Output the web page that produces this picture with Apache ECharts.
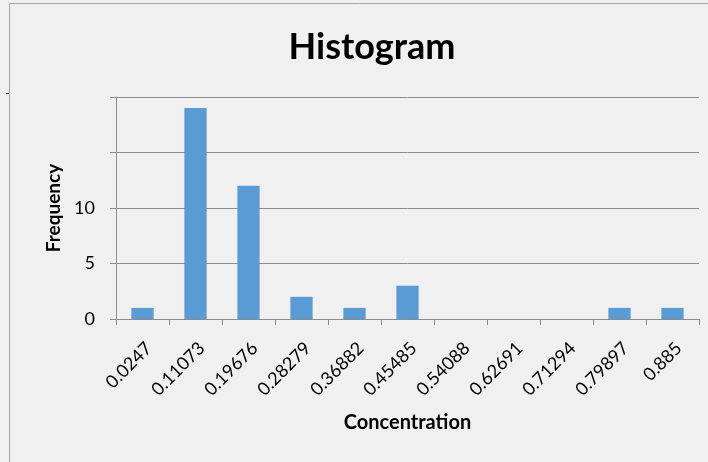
<!DOCTYPE html>
<html>
<head>
<meta charset="utf-8">
<script src="https://cdn.jsdelivr.net/npm/echarts@6/dist/echarts.min.js"></script>
<style>
html,body{margin:0;padding:0;background:#f0f0f0;}
#c{width:708px;height:462px;}
</style>
</head>
<body>
<div id="c"></div>
<script>
const categories = ['0.0247','0.11073','0.19676','0.28279','0.36882','0.45485','0.54088','0.62691','0.71294','0.79897','0.885'];
const frequency = [1, 19, 12, 2, 1, 3, 0, 0, 0, 1, 1];
const yTickLabels = ['0', '5', '10'];

const chart = echarts.init(document.getElementById('c'));
chart.setOption({
  backgroundColor: '#f0f0f0',
  animation: false,
  graphic: [
    { type: 'rect', shape: { x: 9.5, y: 3.5, width: 720, height: 480 },
      style: { fill: 'none', stroke: '#a6a6a6', lineWidth: 1 } },
    { type: 'line', shape: { x1: 6, y1: 93.5, x2: 9, y2: 93.5 },
      style: { stroke: '#333', lineWidth: 1 } }
  ],
  title: {
    text: 'Histogram', left: 367, textAlign: 'center', top: 24,
    textStyle: { fontFamily: 'Lato', fontWeight: 'bold', fontSize: 36, color: '#000' }
  },
  grid: { left: 116, right: 9, top: 97, bottom: 143, containLabel: false },
  xAxis: {
    type: 'category', data: categories,
    name: 'Concentration', nameLocation: 'middle', nameGap: 94,
    nameTextStyle: { fontFamily: 'Lato', fontWeight: 'bold', fontSize: 20, color: '#000' },
    axisLine: { lineStyle: { color: '#8c8c8c' } },
    axisTick: { show: true, length: 6, lineStyle: { color: '#8c8c8c' } },
    axisLabel: { rotate: 45, fontFamily: 'Lato', fontSize: 18, color: '#000', margin: 20,
      verticalAlign: 'top', interval: 0 }
  },
  yAxis: {
    type: 'value', min: 0, max: 20, interval: 5,
    name: 'Frequency', nameLocation: 'middle', nameGap: 53,
    nameTextStyle: { fontFamily: 'Lato', fontWeight: 'bold', fontSize: 19, color: '#000' },
    axisLine: { show: true, lineStyle: { color: '#8c8c8c' } },
    axisTick: { show: true, length: 6, lineStyle: { color: '#8c8c8c' } },
    splitLine: { lineStyle: { color: '#8c8c8c' } },
    axisLabel: {
      fontFamily: 'Lato', fontSize: 18, color: '#000', margin: 21,
      formatter: v => (yTickLabels.indexOf(String(v)) >= 0 ? String(v) : '')
    }
  },
  series: [{
    type: 'bar', data: frequency, barCategoryGap: '58%',
    itemStyle: { color: '#5b9bd5' }
  }]
});
</script>
</body>
</html>
